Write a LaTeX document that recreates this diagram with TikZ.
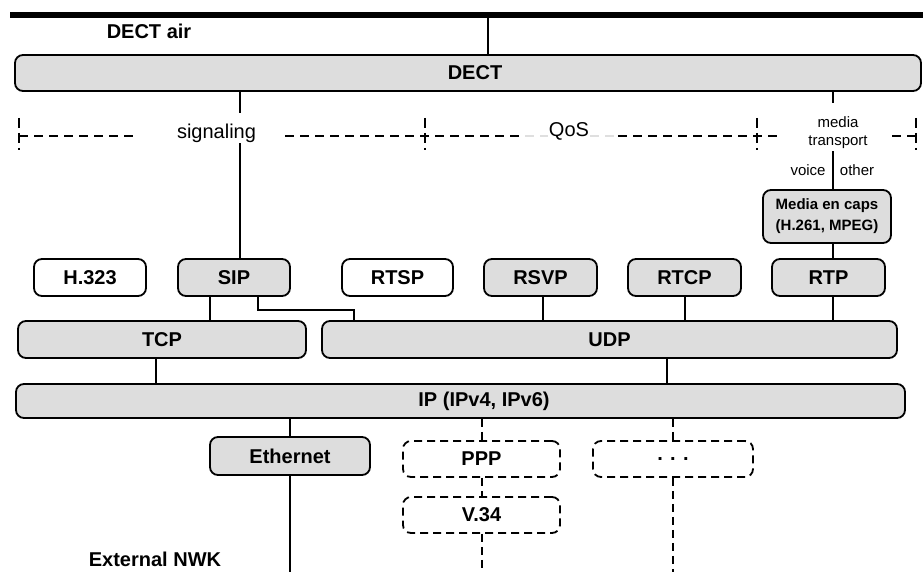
\documentclass[tikz,border=0pt]{standalone}
\usepackage{fontspec}
\setmainfont{Liberation Sans}
\usetikzlibrary{calc}
\definecolor{boxgray}{HTML}{DDDDDD}
\begin{document}
\begin{tikzpicture}[x=1pt,y=-1pt,
  every node/.style={inner sep=0pt},
  bigfont/.style={font=\bfseries\fontsize{20}{24}\selectfont},
  layer/.style={draw, line width=1.8pt, rounded corners=8pt, fill=boxgray, bigfont},
  plainbox/.style={layer, fill=white},
  dashbox/.style={layer, fill=none, dash pattern=on 8pt off 5pt},
  wire/.style={line width=1.5pt},
  dwire/.style={line width=1.8pt, dash pattern=on 8pt off 5pt},
  tickline/.style={line width=1.8pt, dash pattern=on 10pt off 5pt},
  bracket/.style={line width=1.6pt, dash pattern=on 9pt off 6pt},
  note/.style={font=\fontsize{20}{24}\selectfont},
  small/.style={font=\fontsize{15}{18}\selectfont},
]
\useasboundingbox (0,0) rectangle (923,572);

% column positions of the vertical links
\coordinate (xa)  at (488,0);
\coordinate (xs)  at (240,0);
\coordinate (xm)  at (833,0);
\coordinate (xst) at (210,0);
\coordinate (xsu) at (258,0);
\coordinate (xu)  at (354,0);
\coordinate (xrs) at (543,0);
\coordinate (xrc) at (685,0);
\coordinate (xtc) at (156,0);
\coordinate (xud) at (667,0);
\coordinate (xpp) at (482,0);
\coordinate (bot) at (0,572);

% air interface bar
\coordinate (barL) at (10,15);
\coordinate (barR) at (923,15);
\draw[line width=6pt] (barL) -- (barR);
\node[bigfont] (air) at (149,31) {DECT air};

% DECT layer
\node[layer, minimum width=906pt, minimum height=36pt] (dect) at (468,73) {};
\node[bigfont] (dectlbl) at (475,73) {DECT};
\draw[wire] (barL -| xa) -- (dect.north -| xa);

% service bracket: signaling / QoS / media transport
\node[note, text height=14pt, text depth=4pt, anchor=base] (sig) at (216.5,139) {signaling};
\node[note] (qos) at (569,131) {QoS};
\node[small, align=center] (mt) at (838,133) {media\\transport};
\draw[bracket] (19,136) -- (138,136);
\draw[bracket] (285,136) -- (525,136);
\draw[bracket, gray!25] (525,136) -- (548,136);
\draw[bracket, gray!25] (590,136) -- (618,136);
\draw[bracket] (618,136) -- (777,136);
\draw[bracket] (892,136) -- (916,136);
\foreach \x in {19,425,757,916}
  \draw[tickline] (\x,118) -- (\x,150);

\draw[wire, shorten >=12pt] (dect.south -| xs) -- (sig.north -| xs);
\draw[wire, shorten >=14pt] (dect.south -| xm) -- (mt.north -| xm);

% application protocols
\node[plainbox, minimum width=112pt, minimum height=37pt] (h323) at (90,277.5) {H.323};
\node[layer,    minimum width=112pt, minimum height=37pt] (sip)  at (234,277.5) {SIP};
\node[plainbox, minimum width=111pt, minimum height=37pt] (rtsp) at (397.5,277.5) {RTSP};
\node[layer,    minimum width=113pt, minimum height=37pt] (rsvp) at (540.5,277.5) {RSVP};
\node[layer,    minimum width=113pt, minimum height=37pt] (rtcp) at (684.5,277.5) {RTCP};
\node[layer,    minimum width=113pt, minimum height=37pt] (rtp)  at (828.5,277.5) {RTP};
\node[layer, minimum width=128pt, minimum height=53pt, align=center,
      font=\bfseries\fontsize{15}{21}\selectfont] (menc) at (827,216.5) {Media en caps\\(H.261, MPEG)};

\node[small] (voice) at (808,170) {voice};
\node[small] (other) at (857,170) {other};

\draw[wire] (sig.south -| xs) -- (sip.north -| xs);
\draw[wire, shorten <=2pt] (mt.south -| xm) -- (menc.north -| xm);
\draw[wire] (menc.south -| xm) -- (rtp.north -| xm);

% transport layer
\node[layer, minimum width=288pt, minimum height=37pt] (tcp) at (162,339.5) {TCP};
\node[layer, minimum width=575pt, minimum height=37pt] (udp) at (609.5,339.5) {UDP};

\draw[wire] (sip.south -| xst) -- (tcp.north -| xst);
\draw[wire] (sip.south -| xsu) |- ($(udp.north -| xu)+(0,-10)$) -- (udp.north -| xu);
\draw[wire] (rsvp.south -| xrs) -- (udp.north -| xrs);
\draw[wire] (rtcp.south -| xrc) -- (udp.north -| xrc);
\draw[wire] (rtp.south -| xm) -- (udp.north -| xm);

% network layer
\node[layer, minimum width=889pt, minimum height=34pt] (ip) at (460.5,401) {};
\node[bigfont] (iplbl) at (484,401) {IP (IPv4, IPv6)};
\draw[wire] (tcp.south -| xtc) -- (ip.north -| xtc);
\draw[wire] (udp.south -| xud) -- (ip.north -| xud);

% link layers
\node[layer, minimum width=160pt, minimum height=38pt] (eth) at (290,456) {Ethernet};
\node[dashbox, minimum width=157pt, minimum height=36pt] (ppp) at (481.5,459) {PPP};
\node[dashbox, minimum width=160pt, minimum height=36pt] (dots) at (673,459) {. . .};
\node[dashbox, minimum width=157pt, minimum height=36pt] (v34) at (481.5,515) {V.34};

\draw[wire] (ip.south -| eth.north) -- (eth.north);
\draw[wire] (eth.south) -- (eth.south |- bot);
\draw[dwire] (ip.south -| xpp) -- (ppp.north -| xpp);
\draw[dwire] (ppp.south -| xpp) -- (v34.north -| xpp);
\draw[dwire] (v34.south -| xpp) -- (bot -| xpp);
\draw[dwire] (ip.south -| dots.north) -- (dots.north);
\draw[dwire] (dots.south) -- (dots.south |- bot);

\node[bigfont] (ext) at (155,559) {External NWK};
\end{tikzpicture}
\end{document}
